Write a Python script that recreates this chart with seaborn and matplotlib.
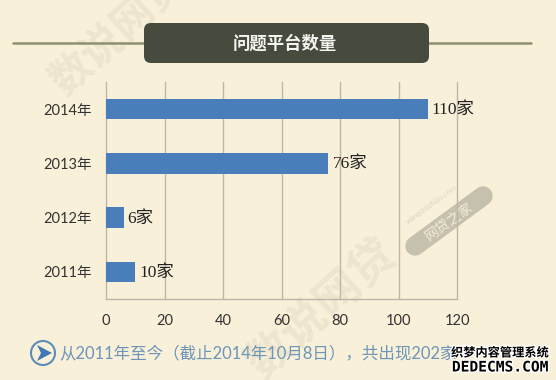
import seaborn as sns
import matplotlib.pyplot as plt
import matplotlib.patheffects as pe
import pandas as pd
from matplotlib.patches import FancyBboxPatch, Circle, Polygon

# Values
years = ['2014年', '2013年', '2012年', '2011年']
counts = [110, 76, 6, 10]
count_labels = ['110家', '76家', '6家', '10家']
x_ticks = [0, 20, 40, 60, 80, 100, 120]

title = '问题平台数量'
note = '从2011年至今（截止2014年10月8日），共出现202家'

df = pd.DataFrame({'year': years, 'count': counts})

bg = '#F9F0D9'
W, H = 556, 380

sns.set_theme(style='white')
plt.rcParams['font.family'] = ['Lato', 'Noto Sans CJK SC', 'DejaVu Sans']

fig = plt.figure(figsize=(W / 100, H / 100), dpi=100, facecolor=bg)

# full figure overlay in pixel coordinates, for the non-chart decoration
deco = fig.add_axes([0, 0, 1, 1], zorder=0)
deco.set_xlim(0, W)
deco.set_ylim(H, 0)
deco.axis('off')

# watermarks
deco.text(118, 32, '数说网贷', fontsize=30, rotation=42, color='#EDE5CE', weight='bold',
          ha='center', va='center')
deco.text(322, 308, '数说网贷', fontsize=33, rotation=42, color='#EDE5CE', weight='bold',
          ha='center', va='center')
deco.plot([415, 483], [246, 196], color='#C6C0AE', linewidth=14, solid_capstyle='round')
deco.text(449, 221, '网贷之家', fontsize=10, rotation=36, color='#F4ECD6',
          ha='center', va='center', zorder=3)
deco.text(432, 204, 'wangdaizhijia.com', fontsize=5.5, rotation=36, color='#DDD5BF',
          ha='center', va='center')

ax = fig.add_axes([106 / W, 1 - 299 / H, (457 - 106) / W, (299 - 82) / H], zorder=1)
ax.patch.set_alpha(0)
sns.barplot(data=df, y='year', x='count', color='#4A7EBB', saturation=1, width=0.38,
            order=years, ax=ax, zorder=3, linewidth=0)
ax.set_xlim(0, 120)
ax.set_xticks(x_ticks)
ax.set_xlabel('')
ax.set_ylabel('')
ax.grid(axis='x', color='#BAB7AB', linewidth=1.0)
for line in ax.get_xgridlines():
    line.set_clip_on(False)
ax.set_axisbelow(True)
for s in ['top', 'left', 'right']:
    ax.spines[s].set_visible(False)
ax.spines['bottom'].set_color('#BAB7AB')
ax.spines['bottom'].set_linewidth(1.0)
ax.tick_params(axis='x', length=0, pad=11, labelsize=10.5, labelcolor='#333333')
ax.tick_params(axis='y', length=0, pad=10, labelsize=10.5, labelcolor='#333333')

for i, (c, lab) in enumerate(zip(counts, count_labels)):
    ax.text(c + 1.4, i + 0.02, lab, va='center', ha='left', fontsize=12.5, color='#222222',
            family=['Liberation Serif', 'Noto Sans CJK SC'], zorder=4)

# header rule and title box
top = fig.add_axes([0, 0, 1, 1], zorder=2)
top.set_xlim(0, W)
top.set_ylim(H, 0)
top.axis('off')
top.patch.set_alpha(0)
top.plot([13, 531], [43, 43], color='#8F8F72', linewidth=1.8)
top.add_patch(FancyBboxPatch((144, 23), 285, 40, boxstyle='round,pad=0,rounding_size=7',
                             facecolor='#464B3E', edgecolor='none', zorder=3))
top.text(285, 44, title, color='#F5F5F0', fontsize=12.5, family=['Noto Sans CJK SC'],
         weight='bold', ha='center', va='center', zorder=4)

# bottom note with arrow icon
top.add_patch(Circle((43, 353), 12, facecolor='none', edgecolor='#5C8DB8', linewidth=1.5))
top.add_patch(Polygon([[37, 345], [52, 353], [37, 361], [41, 353]], closed=True,
                      facecolor='#3F7AB5', edgecolor='none'))
top.text(59, 354, note, color='#6C95B8', fontsize=11.9, ha='left', va='center')

# site stamp in the corner
outline = [pe.withStroke(linewidth=2, foreground='white')]
top.text(500, 353, '织梦内容管理系统', color='black', fontsize=8.8, ha='center', va='center',
         family=['Noto Sans CJK SC'], weight='bold', path_effects=outline, zorder=5)
top.text(500, 367, 'DEDECMS.COM', color='black', fontsize=10.5, ha='center', va='center',
         family='DejaVu Sans Mono', weight='bold', path_effects=outline, zorder=5)

fig.savefig('out.png', dpi=100, facecolor=bg)
